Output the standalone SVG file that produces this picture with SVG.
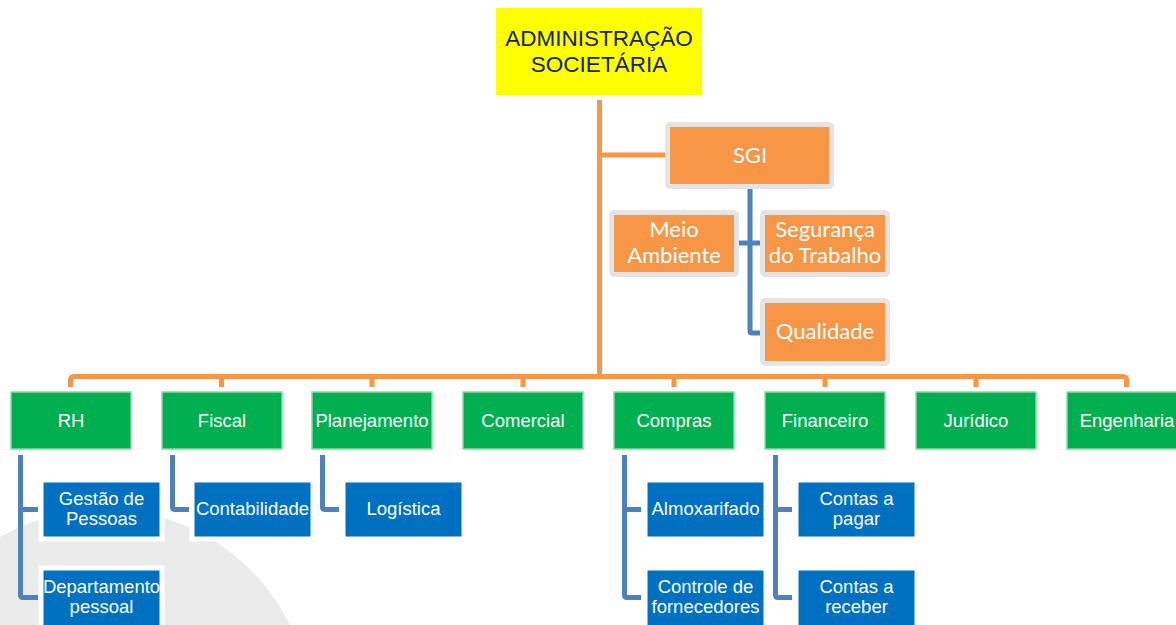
<svg xmlns="http://www.w3.org/2000/svg" width="1176" height="625" viewBox="0 0 1176 625">
<style>
.sgi rect{fill:#f79646;stroke:#e4e4e4;stroke-width:5}
.sgi text{font-family:Lato,"Open Sans",sans-serif;font-size:22px;fill:#fff;text-anchor:middle}
.dep rect{fill:#00b050;stroke:#8ad9a8;stroke-width:1.5}
.dep text{font-family:"Liberation Sans",Arial,sans-serif;font-size:18.5px;fill:#fff;text-anchor:middle}
.sub rect{fill:#0070c0;stroke:#fff;stroke-width:5}
.sub text{font-family:"Liberation Sans",Arial,sans-serif;font-size:18.5px;fill:#fff;text-anchor:middle}
.or{fill:none;stroke:#f79646;stroke-width:5}
.bl{fill:none;stroke:#4f81bd;stroke-width:5}
</style>
<rect width="1176" height="625" fill="#fff"/>
<circle cx="104" cy="716" r="207" fill="#ebebeb"/>
<g id="connectors">
<path class="or" d="M599.5,100 V376.5"/>
<path class="or" d="M599.5,155 H666"/>
<path class="or" d="M70.5,387 V380 Q70.5,376.5 74,376.5 H1123 Q1126.5,376.5 1126.5,380 V387"/>
<path class="or" d="M221.5,376.5 V387 M372,376.5 V387 M523,376.5 V387 M674,376.5 V387 M825,376.5 V387 M976,376.5 V387"/>
<path class="bl" d="M750,189 V331 Q750,333 752,333 H761"/>
<path class="bl" d="M738,243 H761"/>
<path class="bl" d="M20.5,455 V595 Q20.5,597.5 23,597.5 H38 M20.5,509.5 H38"/>
<path class="bl" d="M172.5,455 V507 Q172.5,509.5 175,509.5 H189"/>
<path class="bl" d="M322.5,455 V507 Q322.5,509.5 325,509.5 H339"/>
<path class="bl" d="M624.5,455 V595 Q624.5,597.5 627,597.5 H641 M624.5,509.5 H641"/>
<path class="bl" d="M775.5,455 V595 Q775.5,597.5 778,597.5 H792 M775.5,509.5 H792"/>
</g>
<g id="admin">
<rect x="496" y="8" width="206" height="87" fill="#ffff00"/>
<text x="599" y="46" font-family="'Liberation Sans',Arial,sans-serif" font-size="22.5" fill="#13235b" text-anchor="middle">ADMINISTRAÇÃO</text>
<text x="599" y="72" font-family="'Liberation Sans',Arial,sans-serif" font-size="22.5" fill="#13235b" text-anchor="middle">SOCIETÁRIA</text>
</g>
<g id="sgi" class="sgi"><rect x="667.5" y="124.5" width="164" height="62" rx="3"/><text x="750" y="163">SGI</text></g>
<g id="meio-ambiente" class="sgi"><rect x="611.5" y="212.5" width="125" height="62" rx="3"/><text x="674"><tspan x="674" y="237">Meio</tspan><tspan x="674" y="263">Ambiente</tspan></text></g>
<g id="seguranca" class="sgi"><rect x="762.5" y="212.5" width="125" height="62" rx="3"/><text x="825"><tspan x="825" y="237">Segurança</tspan><tspan x="825" y="263">do Trabalho</tspan></text></g>
<g id="qualidade" class="sgi"><rect x="762.5" y="300.5" width="125" height="63" rx="3"/><text x="825" y="339">Qualidade</text></g>
<g id="rh" class="dep"><rect x="11" y="392" width="120" height="57"/><text x="71" y="427">RH</text></g>
<g id="fiscal" class="dep"><rect x="162" y="392" width="120" height="57"/><text x="222" y="427">Fiscal</text></g>
<g id="planejamento" class="dep"><rect x="312" y="392" width="120" height="57"/><text x="372" y="427">Planejamento</text></g>
<g id="comercial" class="dep"><rect x="463" y="392" width="120" height="57"/><text x="523" y="427">Comercial</text></g>
<g id="compras" class="dep"><rect x="614" y="392" width="120" height="57"/><text x="674" y="427">Compras</text></g>
<g id="financeiro" class="dep"><rect x="765" y="392" width="120" height="57"/><text x="825" y="427">Financeiro</text></g>
<g id="juridico" class="dep"><rect x="916" y="392" width="120" height="57"/><text x="976" y="427">Jurídico</text></g>
<g id="engenharia" class="dep"><rect x="1067" y="392" width="120" height="57"/><text x="1127" y="427">Engenharia</text></g>
<g id="gestao" class="sub"><rect x="41" y="480" width="121" height="59"/><text><tspan x="101.5" y="505">Gestão de</tspan><tspan x="101.5" y="525">Pessoas</tspan></text></g>
<g id="departamento" class="sub"><rect x="41" y="568" width="121" height="65"/><text><tspan x="101.5" y="593">Departamento</tspan><tspan x="101.5" y="613">pessoal</tspan></text></g>
<g id="contabilidade" class="sub"><rect x="192" y="480" width="121" height="59"/><text x="252.5" y="515">Contabilidade</text></g>
<g id="logistica" class="sub"><rect x="343" y="480" width="121" height="59"/><text x="403.5" y="515">Logística</text></g>
<g id="almoxarifado" class="sub"><rect x="645" y="480" width="121" height="59"/><text x="705.5" y="515">Almoxarifado</text></g>
<g id="controle" class="sub"><rect x="645" y="568" width="121" height="65"/><text><tspan x="705.5" y="593">Controle de</tspan><tspan x="705.5" y="613">fornecedores</tspan></text></g>
<g id="contas-pagar" class="sub"><rect x="796" y="480" width="121" height="59"/><text><tspan x="856.5" y="505">Contas a</tspan><tspan x="856.5" y="525">pagar</tspan></text></g>
<g id="contas-receber" class="sub"><rect x="796" y="568" width="121" height="65"/><text><tspan x="856.5" y="593">Contas a</tspan><tspan x="856.5" y="613">receber</tspan></text></g>
</svg>
